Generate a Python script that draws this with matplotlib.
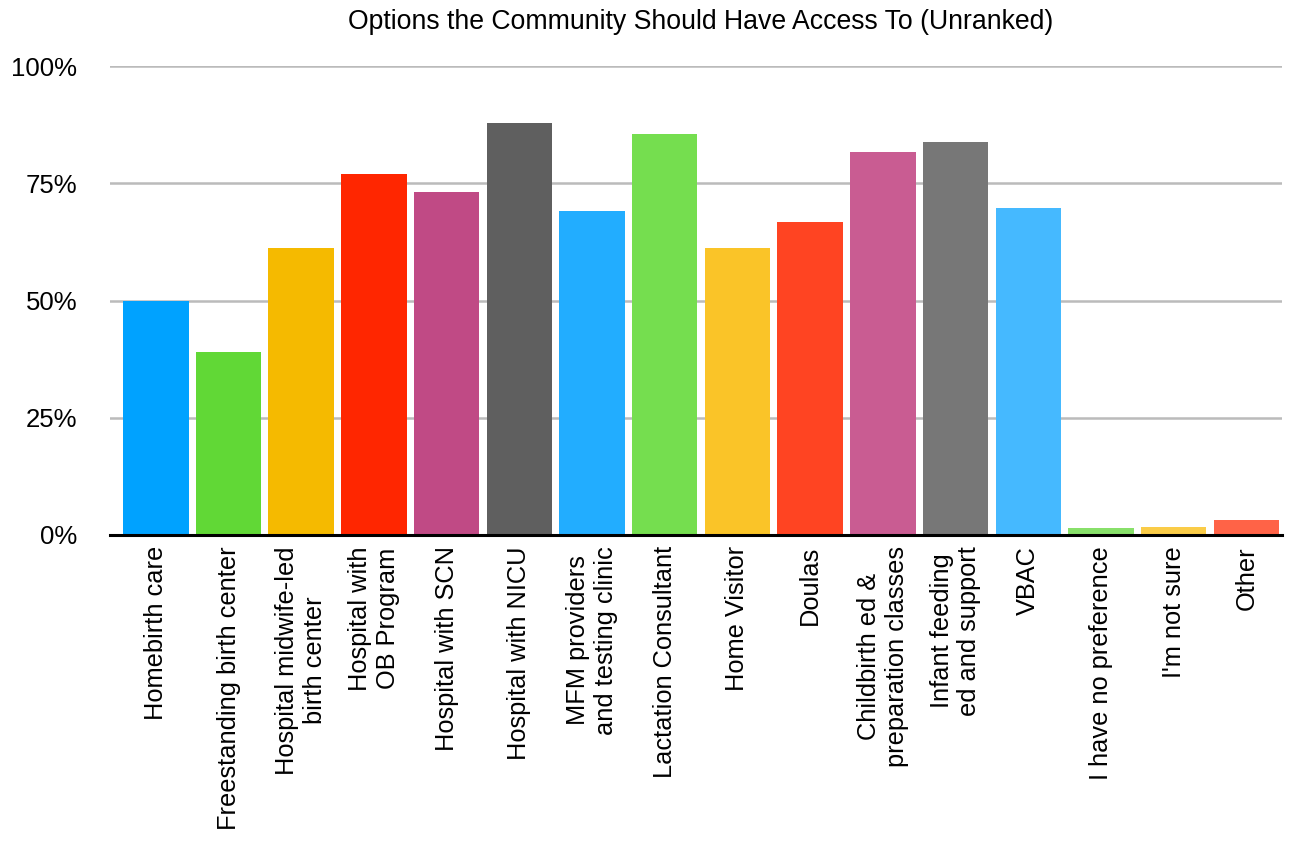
import numpy as np
import matplotlib.pyplot as plt

plt.rcParams['font.family'] = ['Liberation Sans', 'DejaVu Sans']

# Survey options and share of respondents (%)
categories = [
    "Homebirth care",
    "Freestanding birth center",
    "Hospital midwife-led\nbirth center",
    "Hospital with\nOB Program",
    "Hospital with SCN",
    "Hospital with NICU",
    "MFM providers\nand testing clinic",
    "Lactation Consultant",
    "Home Visitor",
    "Doulas",
    "Childbirth ed &\npreparation classes",
    "Infant feeding\ned and support",
    "VBAC",
    "I have no preference",
    "I'm not sure",
    "Other",
]
percentages = [49.8, 39.0, 61.2, 77.0, 73.1, 87.8, 69.1, 85.5,
               61.2, 66.7, 81.7, 83.8, 69.7, 1.4, 1.8, 3.2]
colors = ["#00A2FF", "#61D836", "#F5BA00", "#FF2600", "#C04A85", "#5F5F5F",
          "#22ADFF", "#75DE4F", "#FAC428", "#FF4422", "#C95C92", "#777777",
          "#45B9FF", "#88E06A", "#FACC48", "#FF6347"]
y_ticks = [0, 25, 50, 75, 100]

fig = plt.figure(figsize=(12.96, 8.46), dpi=100)
ax = fig.add_axes([110 / 1296, 1 - 535 / 846, (1282 - 110) / 1296, (535 - 66) / 846])

x = np.arange(len(categories))
ax.bar(x, percentages, width=0.9, color=colors, zorder=3)

ax.set_xlim(-0.63, len(categories) - 0.51)
ax.set_ylim(0, 100)
ax.set_yticks(y_ticks)
ax.set_yticklabels([f"{t}%" for t in y_ticks], fontsize=18.5)
ax.yaxis.grid(True, color="#bbbbbb", linewidth=1.8, zorder=0)
ax.tick_params(axis='y', length=0, pad=23.5)
ax.tick_params(axis='x', length=0, pad=8)

ax.set_xticks(x)
ax.set_xticklabels(categories, rotation=90, fontsize=18.3,
                   ha='center', va='top', multialignment='center')

for side in ['top', 'right', 'left']:
    ax.spines[side].set_visible(False)
ax.spines['bottom'].set_color('black')
ax.spines['bottom'].set_linewidth(2.2)
ax.spines['bottom'].set_zorder(4)

fig.text(0.5 * (345 + 1057) / 1296, 1 - 22 / 846,
         "Options the Community Should Have Access To (Unranked)",
         fontsize=19.2, ha='center', va='center')

plt.savefig("out.png", dpi=100)
